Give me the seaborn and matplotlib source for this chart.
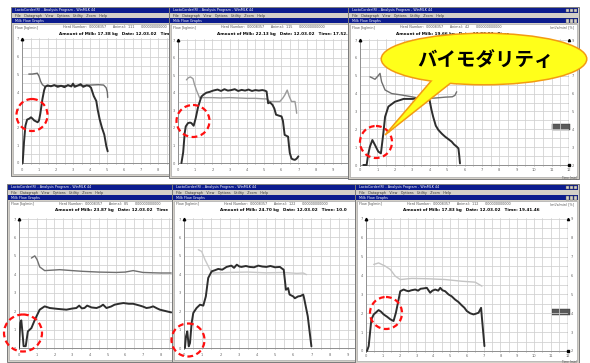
import matplotlib
matplotlib.use("Agg")
import matplotlib.pyplot as plt
from matplotlib.patches import Rectangle, Ellipse, Polygon
import seaborn as sns

sns.set_style("white")
plt.rcParams["font.family"] = ["DejaVu Sans", "Noto Sans CJK JP"]

# ---------------- data (time [min], flow [kg/min]) ----------------
t_flow_1 = [0.04, 0.12, 0.2, 0.3, 0.42, 0.53, 0.62, 0.72, 0.82, 0.92, 1.0, 1.08, 1.2, 1.3, 1.37,
            1.5, 1.7, 1.9, 2.1, 2.3, 2.5, 2.7, 2.9, 3.0, 3.1, 3.3, 3.45, 3.6, 3.8, 3.95,
            4.06, 4.22, 4.37, 4.45, 4.57, 4.7, 4.84, 4.96, 5.04]
flow_1 = [0, 1.2, 2.1, 2.45, 2.5, 2.58, 2.5, 2.4, 2.35, 2.3, 2.4, 2.8, 3.6, 4.1, 4.3,
          4.38, 4.33, 4.4, 4.3, 4.36, 4.28, 4.4, 4.32, 4.48, 4.3, 4.38, 4.45, 4.3, 4.38, 4.35,
          4.25, 3.78, 3.5, 3.02, 2.46, 2.0, 1.6, 0.95, 0.66]
t_aux_1 = [0.4, 0.6, 0.8, 0.9, 1.0, 1.1, 1.2, 1.3, 1.4, 1.6, 2.0, 2.5, 3.0, 3.5, 4.0,
           4.5, 4.8, 4.95, 5.02, 5.04]
aux_1 = [5.02, 5.02, 5.05, 5.07, 4.9, 4.6, 4.42, 4.35, 4.32, 4.35, 4.38, 4.36, 4.38, 4.37, 4.4,
         4.42, 4.4, 4.25, 4.0, 3.7]

t_flow_2 = [0.2, 0.3, 0.39, 0.45, 0.58, 0.7, 0.78, 0.91, 1.03, 1.17, 1.36, 1.5, 1.65, 1.85, 2.04,
            2.3, 2.5, 2.7, 2.9, 3.1, 3.3, 3.5, 3.7, 3.9, 4.1, 4.3, 4.5, 4.7, 4.9, 5.05,
            5.15, 5.24, 5.35, 5.5, 5.6, 5.7, 5.85, 6.02, 6.1, 6.2, 6.3, 6.4, 6.45, 6.5, 6.6,
            6.7, 6.8, 6.9, 7.0]
flow_2 = [0, 0.6, 1.7, 2.08, 2.27, 2.3, 2.27, 2.12, 2.55, 3.2, 3.78, 3.9, 4.0, 4.05, 4.12,
          4.18, 4.1, 4.2, 4.12, 4.15, 4.2, 4.1, 4.16, 4.12, 4.18, 4.1, 4.15, 4.12, 4.15, 4.12,
          4.07, 3.4, 3.45, 3.3, 3.1, 2.75, 2.7, 2.65, 2.4, 1.6, 1.55, 1.5, 1.0, 0.57, 0.25,
          0.2, 0.18, 0.25, 0.38]
t_aux_2 = [0.49, 0.6, 0.72, 0.87, 0.95, 1.07, 1.26, 1.46, 2.0, 2.5, 3.0, 3.5, 4.0, 4.5, 5.0,
           5.15, 5.34, 5.6, 5.92, 6.1, 6.21, 6.35, 6.47, 6.6, 6.8, 6.85, 6.9]
aux_2 = [4.73, 4.85, 4.9, 4.8, 4.5, 4.15, 3.7, 3.72, 3.72, 3.7, 3.72, 3.7, 3.68, 3.68, 3.65,
         3.65, 3.5, 3.5, 3.5, 3.7, 3.87, 4.15, 3.78, 3.5, 3.5, 3.2, 2.83]

t_flow_3 = [0.19, 0.38, 0.47, 0.57, 0.71, 0.86, 1.05, 1.2, 1.34, 1.44, 1.63, 2.0, 2.5, 2.97, 3.44,
            3.83, 4.0, 4.1, 4.2, 4.35, 4.5, 4.7, 4.88, 5.07, 5.26, 5.4, 5.55, 5.65, 5.7, 5.74]
flow_3 = [0, 0, 0.6, 1.03, 1.4, 1.12, 0.75, 0.65, 1.77, 2.7, 3.27, 3.54, 3.7, 3.7, 3.73,
          3.8, 3.6, 3.1, 2.7, 2.2, 1.96, 1.75, 1.59, 1.45, 1.31, 1.15, 1.03, 0.93, 0.5, 0.09]
t_aux_3 = [0.57, 0.7, 0.86, 1.0, 1.15, 1.24, 1.44, 1.82, 2.39, 2.97, 3.35, 3.8, 4.3, 4.9, 5.3,
           5.45, 5.55]
aux_3 = [4.94, 4.88, 4.8, 4.95, 5.13, 4.66, 4.2, 4.0, 3.92, 3.82, 3.75, 3.72, 3.75, 3.8, 3.82,
         3.9, 4.1]

t_flow_4 = [0, 0.07, 0.13, 0.2, 0.26, 0.38, 0.5, 0.7, 0.9, 1.17, 1.45, 1.74, 2.2, 2.68, 3.0,
            3.24, 3.4, 3.55, 3.7, 3.85, 4.1, 4.38, 4.6, 4.75, 4.94, 5.2, 5.4, 5.65, 5.9, 6.2,
            6.45, 6.83, 7.0, 7.2, 7.4, 7.58, 7.8, 7.96, 8.3, 8.6]
flow_4 = [0, 1.36, 1.5, 0.8, 0.1, 0.1, 0.9, 1.08, 1.54, 2.08, 2.26, 2.17, 2.12, 2.08, 2.14,
          2.17, 2.3, 2.15, 2.17, 2.3, 2.2, 2.17, 2.25, 2.35, 2.17, 2.25, 2.35, 2.4, 2.44, 2.4,
          2.4, 2.3, 2.25, 2.17, 2.2, 2.26, 2.15, 2.08, 2.0, 1.93]
t_aux_4 = [0.7, 0.89, 1.02, 1.17, 1.45, 1.8, 2.3, 3.0, 3.6, 4.5, 5.5, 6.0, 6.45, 7.0, 7.6, 8.0, 8.6]
aux_4 = [4.88, 5.0, 4.8, 4.4, 4.2, 4.22, 4.25, 4.2, 4.16, 4.12, 4.1, 4.12, 4.2, 4.1, 4.08, 4.07, 4.07]

t_flow_5 = [0.05, 0.11, 0.18, 0.26, 0.33, 0.42, 0.51, 0.69, 0.88, 1.06, 1.2, 1.33, 1.52, 1.7, 1.88,
            2.1, 2.34, 2.6, 2.75, 2.9, 3.05, 3.16, 3.4, 3.6, 3.85, 4.08, 4.3, 4.53, 4.75, 5.0,
            5.27, 5.4, 5.48, 5.6, 5.72, 5.8, 6.0, 6.09, 6.27, 6.4, 6.55, 6.6, 6.8, 7.0]
flow_5 = [0, 0.63, 0.9, 0.09, 0.27, 1.36, 1.9, 2.17, 2.35, 2.3, 2.8, 3.8, 4.16, 4.22, 4.29,
          4.25, 4.4, 4.47, 4.35, 4.52, 4.42, 4.4, 4.45, 4.4, 4.38, 4.47, 4.42, 4.4, 4.45, 4.38,
          4.4, 4.3, 4.25, 3.16, 3.25, 2.9, 2.8, 2.7, 2.8, 2.82, 2.9, 2.7, 1.72, 0.09]
t_aux_5 = [0.79, 0.97, 1.15, 1.43, 1.6, 2.5, 3.5, 4.5, 5.5, 6.2, 6.55, 6.73]
aux_5 = [5.33, 5.24, 4.8, 4.25, 4.07, 4.1, 4.12, 4.08, 4.1, 4.05, 4.07, 3.98]

t_flow_6 = [0.06, 0.16, 0.32, 0.46, 0.6, 0.75, 0.9, 1.05, 1.25, 1.45, 1.64, 1.78, 1.94, 2.04, 2.24,
            2.4, 2.53, 2.7, 2.93, 3.1, 3.25, 3.43, 3.62, 3.82, 3.95, 4.12, 4.3, 4.42, 4.55, 4.71,
            4.91, 5.1, 5.3, 5.5, 5.7, 5.85, 6.0, 6.2, 6.4, 6.55, 6.7, 6.85, 6.9, 7.05]
flow_6 = [0, 0.26, 1.68, 1.94, 2.05, 2.17, 2.08, 1.94, 1.82, 1.68, 1.59, 2.03, 2.73, 3.17, 3.26,
          3.2, 3.17, 3.22, 3.26, 3.2, 3.3, 3.32, 3.35, 3.09, 3.2, 3.26, 3.2, 3.35, 3.22, 3.17,
          3.0, 2.9, 2.73, 2.6, 2.42, 2.3, 2.12, 2.0, 1.94, 1.98, 2.03, 2.29, 1.76, 0.26]
t_aux_6 = [0.46, 0.75, 1.15, 1.45, 1.74, 2.04, 2.73, 3.72, 4.71, 5.7, 6.5, 6.9]
aux_6 = [4.59, 4.67, 4.5, 4.32, 3.97, 3.79, 3.85, 3.83, 3.79, 3.7, 3.65, 3.44]

milk_amounts = ["17.38", "22.13", "19.66", "23.87", "24.70", "17.83"]
milk_times = ["", "17.52.38", "", "", "10.0", "19.41.46"]
animals = ["111", "115", "42", "85", "122", "112"]
y_tick_labels = ["0", "1", "2", "3", "4", "5", "6", "7"]
right_tick_labels = ["2", "3", "4", "5", "6", "7", "8", "9"]
callout_text = "バイモダリティ"

# ---------------- layout (pixels) ----------------
W, H = 590, 363
panels = [
    dict(win=(11, 7, 172, 176), ox=22, oy0=163, oy7=39, ppu=17.0, xmax=9, auxc="#6a6a6a",
         t=t_flow_1, f=flow_1, ta=t_aux_1, a=aux_1, right=False, box_y=None),
    dict(win=(169, 7, 352, 178), ox=178, oy0=163, oy7=40, ppu=17.2, xmax=10, auxc="#9a9a9a",
         t=t_flow_2, f=flow_2, ta=t_aux_2, a=aux_2, right=False, box_y=None),
    dict(win=(348, 7, 579, 179), ox=360, oy0=165, oy7=40, ppu=17.42, xmax=12, auxc="#707070",
         t=t_flow_3, f=flow_3, ta=t_aux_3, a=aux_3, right=True, box_y=124),
    dict(win=(7, 184, 176, 362), ox=19, oy0=348, oy7=219, ppu=17.7, xmax=9, auxc="#707070",
         t=t_flow_4, f=flow_4, ta=t_aux_4, a=aux_4, right=False, box_y=None),
    dict(win=(172, 184, 357, 362), ox=184, oy0=348, oy7=219, ppu=18.2, xmax=9.5, auxc="#c8c8c8",
         t=t_flow_5, f=flow_5, ta=t_aux_5, a=aux_5, right=False, box_y=None),
    dict(win=(355, 184, 579, 363), ox=366, oy0=351, oy7=219, ppu=16.8, xmax=12, auxc="#c4c4c4",
         t=t_flow_6, f=flow_6, ta=t_aux_6, a=aux_6, right=True, box_y=309),
]

fig = plt.figure(figsize=(W / 100, H / 100), dpi=100)
fig.patch.set_facecolor("white")

NAVY = "#0c1c8e"
GREY = "#d4d0c8"

for i, p in enumerate(panels):
    z = 1 + i
    x0, y0, x1, y1 = p["win"]
    wa = fig.add_axes([0, 0, 1, 1], zorder=z)
    wa.set_xlim(0, W)
    wa.set_ylim(H, 0)
    wa.axis("off")
    wa.patch.set_visible(False)
    wa.add_patch(Rectangle((x0, y0), x1 - x0, y1 - y0, fc=GREY, ec="#7a7a7a", lw=0.7))
    wa.add_patch(Rectangle((x0 + 1, y0 + 0.5), x1 - x0 - 2, 5.5, fc=NAVY, ec="none"))
    wa.add_patch(Rectangle((x0 + 1, y0 + 11), x1 - x0 - 2, 5, fc=NAVY, ec="none"))
    wa.add_patch(Rectangle((x0 + 2, y0 + 16.5), x1 - x0 - 4, y1 - y0 - 19, fc="white", ec="#9a9a9a", lw=0.4))
    wa.text(x0 + 4, y0 + 3.4, "LactoCorder(R) - Analysis Program - WinMLK 44", color="white",
            fontsize=2.4, va="center")
    wa.text(x0 + 4, y0 + 8.6, "File   Datagraph   View   Options   Utility   Zoom   Help",
            color="#333333", fontsize=2.4, va="center")
    wa.text(x0 + 4, y0 + 13.6, "Milk Flow Graphs", color="white", fontsize=2.4, va="center")
    if p["right"]:
        for k in range(3):
            wa.add_patch(Rectangle((x1 - 13 + k * 4, y0 + 1.5), 3.4, 3.5, fc=GREY, ec="#555", lw=0.3))
            wa.add_patch(Rectangle((x1 - 13 + k * 4, y0 + 12), 3.4, 3.5, fc=GREY, ec="#555", lw=0.3))
    wa.text(x0 + 4, y0 + 20.5, "Flow [kg/min]", color="#555555", fontsize=2.4, va="center")
    wa.text(x0 + 52, y0 + 20, f"Herd Number:  00008357      Animal:  {animals[i]}      000000000000",
            color="#555555", fontsize=2.4, va="center")
    tm = f"   Time: {milk_times[i]}" if milk_times[i] else "   Time"
    wa.text(x0 + 48, y0 + 26.5, f"Amount of Milk: {milk_amounts[i]} kg   Date: 12.03.02{tm}",
            color="black", fontsize=3.0, fontweight="bold", va="center")
    if p["right"]:
        wa.text(x1 - 5, y0 + 20.5, "(ml/s/min) [%]", color="#555555", fontsize=2.4, va="center", ha="right")
        wa.text(x1 - 2, y1 - 2.0, "Time [min]", color="#555555", fontsize=2.0, va="center", ha="right")
        wa.add_patch(Rectangle((x1 - 27, p["box_y"]), 18, 6, fc="#5a5a5a", ec="#333", lw=0.3))

    # plot area
    ppy = (p["oy0"] - p["oy7"]) / 7.0
    ylo, yhi = -0.1, 7.05
    left_px = p["ox"]
    right_px = p["ox"] + p["xmax"] * p["ppu"]
    bot_px = p["oy0"] - ylo * ppy
    top_px = p["oy0"] - yhi * ppy
    ax = fig.add_axes([left_px / W, 1 - bot_px / H, (right_px - left_px) / W, (bot_px - top_px) / H],
                      zorder=z + 0.5)
    ax.set_facecolor("none")
    ax.set_xlim(0, p["xmax"])
    ax.set_ylim(ylo, yhi)
    ax.set_xticks(range(0, int(p["xmax"]) + 1))
    ax.set_xticks([v * 0.5 for v in range(0, int(p["xmax"] * 2) + 1)], minor=True)
    ax.set_yticks(range(0, 8))
    ax.set_yticklabels(y_tick_labels)
    ax.set_yticks([v * 0.5 for v in range(0, 15)], minor=True)
    ax.grid(which="both", color="#d0d0d0", lw=0.55)
    ax.tick_params(which="both", length=0, labelsize=2.6, labelcolor="#666666", pad=2.0)
    if p["right"]:
        ax.tick_params(axis="x", pad=1.0)
    for s in ax.spines.values():
        s.set_visible(False)
    ax.axvline(0, color="#909090", lw=0.7)
    ax.axhline(0, color="#909090", lw=0.7)
    ax.plot([0], [7], marker="^", ms=1.8, color="black", clip_on=False)
    if p["right"]:
        ax.axvline(12, color="#444444", lw=0.9)
        sec = ax.secondary_yaxis("right")
        sec.set_yticks(range(0, 8))
        sec.set_yticklabels(right_tick_labels)
        sec.tick_params(length=0, labelsize=2.6, labelcolor="#666666", pad=2)
        sec.spines["right"].set_visible(False)
        ax.plot([12], [0], marker="s", ms=1.6, color="black", clip_on=False)
        ax.plot([12], [7], marker="^", ms=1.6, color="black", clip_on=False)

    sns.lineplot(x=p["ta"], y=p["a"], ax=ax, color=p["auxc"], lw=1.0, sort=False,
                 estimator=None, legend=False)
    sns.lineplot(x=p["t"], y=p["f"], ax=ax, color="#2e2e2e", lw=1.4, sort=False,
                 estimator=None, legend=False)

# ---------------- overlay: red circles + callout ----------------
ov = fig.add_axes([0, 0, 1, 1], zorder=20)
ov.set_xlim(0, W)
ov.set_ylim(H, 0)
ov.axis("off")
ov.patch.set_visible(False)

circles = [(32, 115, 31, 32), (193, 121, 33, 32), (376, 142, 32, 32),
           (23, 333, 38, 37), (188, 340, 33, 33), (386, 313, 32, 32)]
for cx, cy, cw, ch in circles:
    ov.add_patch(Ellipse((cx, cy), cw, ch, fill=False, ec="#ff1010", lw=1.6,
                         linestyle=(0, (2.6, 1.6))))

ov.add_patch(Ellipse((484, 59), 204, 50, fc="none", ec="#f39a12", lw=2.2, zorder=1))
ov.add_patch(Polygon([(438.8, 72), (385, 135), (464.6, 72)], closed=True, fc="#ffff1a",
                     ec="#f39a12", lw=1.1, zorder=2))
ov.add_patch(Ellipse((484, 59), 204, 50, fc="#ffff1a", ec="none", zorder=3))
ov.text(486, 60, callout_text, fontsize=14, fontweight="bold", color="black",
        family=["Noto Sans CJK JP", "DejaVu Sans"], ha="center", va="center", zorder=4)

fig.savefig("out.png", dpi=100)
